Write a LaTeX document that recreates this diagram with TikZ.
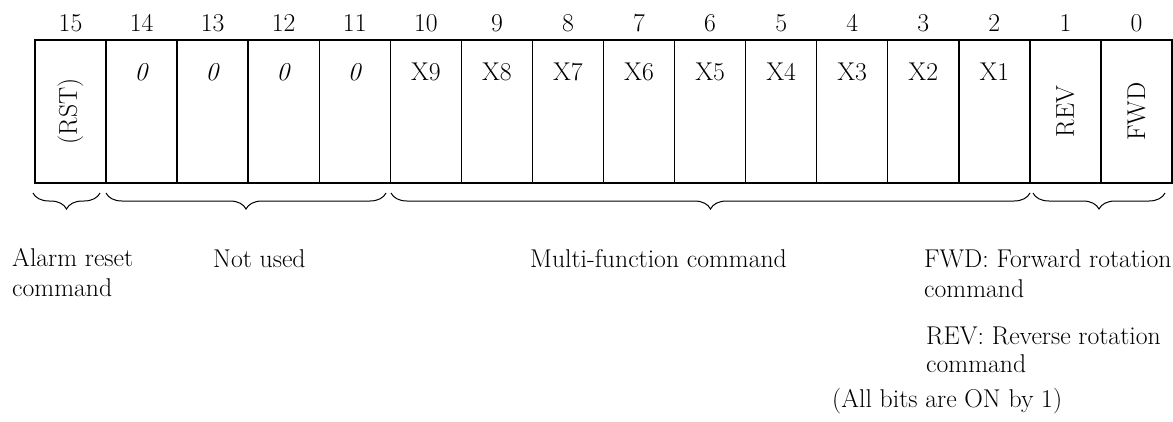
\documentclass[tikz,border=0pt]{standalone}
\usetikzlibrary{decorations.pathreplacing}
\begin{document}
\begin{tikzpicture}[x=1pt,y=-1pt,
  cell/.style={draw,line width=1.4pt,minimum width=71.06pt,minimum height=143pt,inner sep=0pt,outer sep=0pt},
  txt/.style={font=\fontsize{25.7}{29.5}\selectfont,inner sep=0pt},
  desc/.style={txt,align=left,anchor=base west},
  bracestyle/.style={decorate,decoration={brace,amplitude=16pt},line width=1pt}]
\useasboundingbox (0,0) rectangle (1173,421);
\foreach \i in {0,...,15} {
  \pgfmathsetmacro\cx{35+(15-\i)*71.0625+35.53}
  \node[cell] (c\i) at (\cx,111.5) {};
  \node[txt] (n\i) at (\cx,23) {\i};
}
\foreach \i/\t in {14/\textit{0},13/\textit{0},12/\textit{0},11/\textit{0},10/X9,9/X8,8/X7,7/X6,6/X5,5/X4,4/X3,3/X2,2/X1} {
  \pgfmathsetmacro\cx{35+(15-\i)*71.0625+35.53}
  \node[txt] (l\i) at (\cx,72) {\t};
}
\node[txt,rotate=90] (l15) at (c15.center) {(RST)};
\node[txt,rotate=90] (l1) at (c1.center) {REV};
\node[txt,rotate=90] (l0) at (c0.center) {FWD};
% braces
\coordinate (b1r) at (100,193); \coordinate (b1l) at (33,193);
\coordinate (b2r) at (386,193); \coordinate (b2l) at (106,193);
\coordinate (b3r) at (1030,193); \coordinate (b3l) at (391,193);
\coordinate (b4r) at (1165,193); \coordinate (b4l) at (1033,193);
\draw[bracestyle] (b1r) -- (b1l);
\draw[bracestyle] (b2r) -- (b2l);
\draw[bracestyle] (b3r) -- (b3l);
\draw[bracestyle] (b4r) -- (b4l);
% descriptions (base anchor = last line)
\node[desc] (d1) at (12,296) {Alarm reset\\command};
\node[desc] (d2) at (213,267) {Not used};
\node[desc] (d3) at (530,267) {Multi-function command};
\node[desc] (d4) at (924,297) {FWD: Forward rotation\\command};
\node[desc,font=\fontsize{25.7}{27.5}\selectfont] (d5) at (926,372) {REV: Reverse rotation\\command};
\node[desc] (d6) at (832,407) {(All bits are ON by 1)};
\end{tikzpicture}
\end{document}
